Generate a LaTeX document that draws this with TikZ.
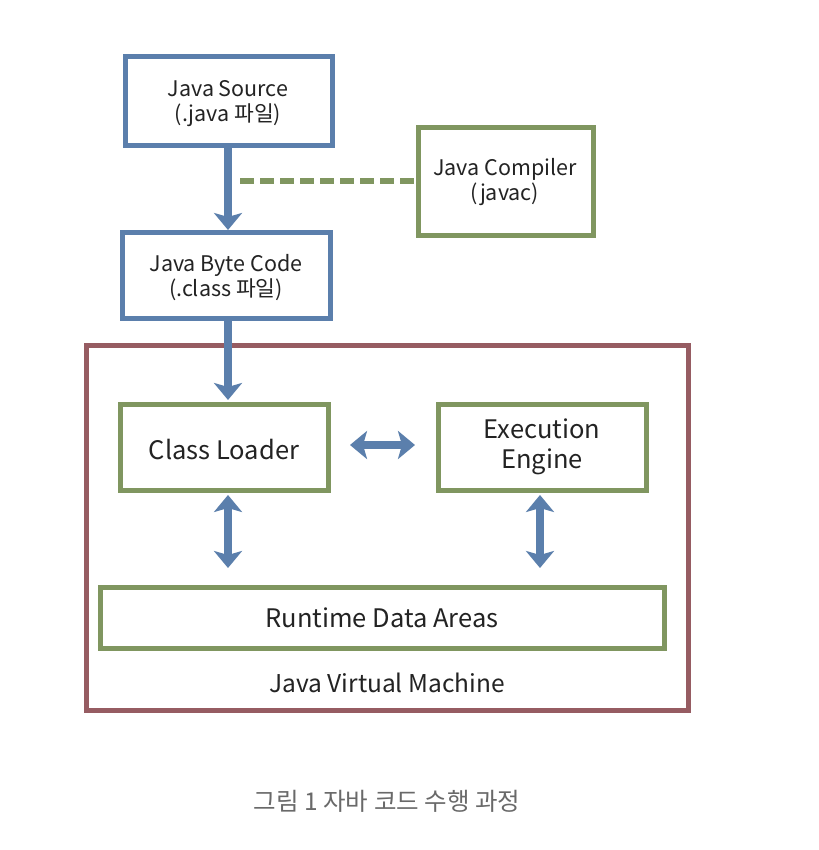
\documentclass[tikz,border=0pt]{standalone}
\usepackage{fontspec}
\setmainfont{Noto Sans CJK KR}
\usetikzlibrary{arrows.meta}
\definecolor{jblue}{RGB}{91,127,172}
\definecolor{jgreen}{RGB}{128,150,96}
\definecolor{jred}{RGB}{150,92,98}
\definecolor{jtext}{RGB}{35,35,35}
\definecolor{jcap}{RGB}{105,105,105}
\begin{document}
\begin{tikzpicture}[x=1pt,y=-1pt,
  bluebox/.style={draw=jblue,line width=5pt,inner sep=0pt},
  greenbox/.style={draw=jgreen,line width=5pt,inner sep=0pt},
  lbl/.style={text=jtext,font=\fontsize{21.5}{25}\selectfont,align=center},
  biglbl/.style={text=jtext,font=\fontsize{25.5}{30}\selectfont,align=center},
  flow/.style={draw=jblue,line width=8pt,-{Stealth[length=17pt,width=28pt,inset=4pt]}},
  flow2/.style={draw=jblue,line width=8pt,{Stealth[length=17pt,width=28pt,inset=4pt]}-{Stealth[length=17pt,width=28pt,inset=4pt]}}]
\useasboundingbox[fill=white] (0,0) rectangle (818,850);
% boxes
\draw[bluebox] (125,57) rectangle (332,146);
\node[lbl] (src) at (228,104) {Java Source\\(.java 파일)};
\coordinate (srcb) at (228,148);
\draw[greenbox] (418,128) rectangle (593,235);
\node[lbl] (comp) at (505,182) {Java Compiler\\(javac)};
\coordinate (compl) at (416,181);
\draw[bluebox] (122,232) rectangle (330,318);
\node[lbl] (bc) at (226,278) {Java Byte Code\\(.class 파일)};
\coordinate (bct) at (228,230);
\coordinate (bcb) at (228,320);
\draw[draw=jred,line width=5pt] (86,345) rectangle (688,710);
\node[text=jtext,font=\fontsize{24.5}{30}\selectfont] (jvm) at (387,683) {Java Virtual Machine};
\draw[greenbox] (120,404) rectangle (328,490);
\node[biglbl] (cl) at (224,450) {Class Loader};
\coordinate (clt) at (228,400);
\draw[greenbox] (438,404) rectangle (646,490);
\node[biglbl] (ee) at (542,447) {Execution\\Engine};
\draw[greenbox] (100,587) rectangle (664,648);
\node[biglbl] (rda) at (382,618) {Runtime Data Areas};
% connectors
\coordinate (d1) at (240,181);
\draw[draw=jgreen,line width=6pt,dash pattern=on 14pt off 6pt] (d1) -- (compl);
\draw[flow] (srcb) -- (bct);
\draw[flow] (bcb) -- (clt);
\coordinate (h1) at (350,445);
\coordinate (h2) at (415,445);
\draw[flow2] (h1) -- (h2);
\coordinate (v1) at (228,495);
\coordinate (v2) at (228,568);
\draw[flow2] (v1) -- (v2);
\coordinate (v3) at (540,495);
\coordinate (v4) at (540,568);
\draw[flow2] (v3) -- (v4);
\node[text=jcap,font=\fontsize{24.5}{30}\selectfont] (cap) at (387,801) {그림 1 자바 코드 수행 과정};
\end{tikzpicture}
\end{document}
